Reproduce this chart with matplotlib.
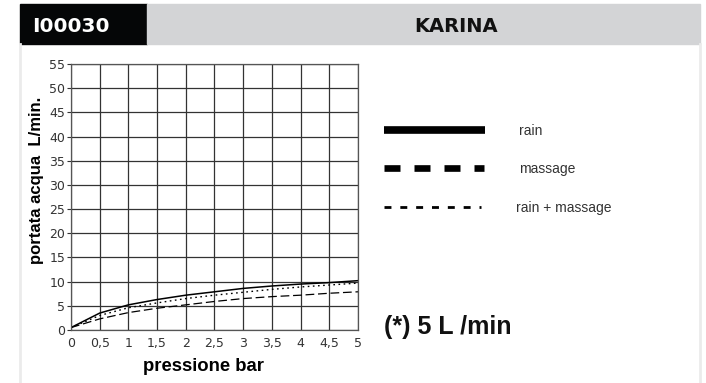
import numpy as np
import matplotlib.pyplot as plt
from matplotlib.lines import Line2D
from matplotlib.patches import Rectangle

# data
pressure = [0, 0.5, 1, 1.5, 2, 2.5, 3, 3.5, 4, 4.5, 5]
rain = [0.5, 3.5, 5.2, 6.3, 7.2, 7.9, 8.6, 9.1, 9.5, 9.8, 10.2]
massage = [0.5, 2.3, 3.6, 4.5, 5.2, 5.9, 6.5, 6.9, 7.2, 7.6, 7.9]
rain_massage = [0.5, 3.0, 4.6, 5.6, 6.5, 7.2, 7.8, 8.4, 8.9, 9.3, 9.7]

x_ticks = [0, 0.5, 1, 1.5, 2, 2.5, 3, 3.5, 4, 4.5, 5]
x_labels = ['0', '0,5', '1', '1,5', '2', '2,5', '3', '3,5', '4', '4,5', '5']
y_ticks = list(range(0, 60, 5))

plt.rcParams['font.family'] = ['Liberation Sans', 'DejaVu Sans']
narrow = 'DejaVu Sans Condensed'

fig = plt.figure(figsize=(7.06, 3.83), dpi=100)
W, H = 706, 383

def fx(px):
    return px / W

def fy(py):
    return 1 - py / H

# header bars and page borders
fig.add_artist(Rectangle((fx(20), fy(44)), fx(127), 40 / H, color='#050607', transform=fig.transFigure))
fig.add_artist(Rectangle((fx(147), fy(44)), fx(553), 40 / H, color='#d3d4d6', transform=fig.transFigure))
fig.add_artist(Line2D([fx(20), fx(20)], [fy(44), 0], color='#ebebeb', lw=2, transform=fig.transFigure))
fig.add_artist(Line2D([fx(700), fx(700)], [fy(44), 0], color='#ebebeb', lw=2, transform=fig.transFigure))
fig.text(fx(32), fy(26), 'I00030', color='white', fontsize=14.5, fontweight='bold',
         family=narrow, va='center', ha='left')
fig.text(fx(456), fy(26), 'KARINA', color='#111111', fontsize=14, fontweight='bold',
         family=narrow, va='center', ha='center')

ax = fig.add_axes([fx(71), fy(330), fx(287), 266 / H])
ax.plot(pressure, rain, color='black', lw=1.1)
ax.plot(pressure, massage, color='black', lw=0.9, linestyle=(0, (7, 3)))
ax.plot(pressure, rain_massage, color='black', lw=1.0, linestyle=(0, (1.2, 2.5)))

ax.set_xlim(0, 5)
ax.set_ylim(0, 55)
ax.set_xticks(x_ticks)
ax.set_xticklabels(x_labels)
ax.set_yticks(y_ticks)
ax.grid(True, color='#333333', lw=0.9)
ax.set_axisbelow(True)
for s in ax.spines.values():
    s.set_color('#555555')
    s.set_linewidth(0.9)
ax.tick_params(axis='both', labelsize=9, colors='#333333', length=3, width=0.8)
ax.tick_params(axis='y', pad=1)
ax.tick_params(axis='x', length=0, pad=5)
for lab in ax.get_xticklabels() + ax.get_yticklabels():
    lab.set_family(narrow)
ax.set_xlabel('pressione bar', fontsize=13.3, fontweight='bold')
ax.xaxis.set_label_coords(0.463, -0.105)
ax.set_ylabel('portata acqua  L/min.', fontsize=12, fontweight='bold')
ax.yaxis.set_label_coords(-0.094, 0.564)

# legend drawn as free lines
fig.add_artist(Line2D([fx(384), fx(485)], [fy(130), fy(130)], color='black', lw=5.5,
                      transform=fig.transFigure, solid_capstyle='butt'))
fig.add_artist(Line2D([fx(384), fx(484)], [fy(168), fy(168)], color='black', lw=4.8,
                      linestyle=(0, (2.4, 2.1)), transform=fig.transFigure, dash_capstyle='butt'))
fig.add_artist(Line2D([fx(384), fx(481)], [fy(207), fy(207)], color='black', lw=2,
                      linestyle=(0, (2.5, 3.2)), transform=fig.transFigure, dash_capstyle='butt'))
fig.text(fx(519), fy(131), 'rain', fontsize=10, color='#333333', va='center')
fig.text(fx(519), fy(169), 'massage', fontsize=10, color='#333333', va='center')
fig.text(fx(516), fy(208), 'rain + massage', fontsize=10, color='#333333', va='center')
fig.text(fx(384), fy(327), '(*) 5 L /min', fontsize=18, fontweight='bold', color='#111111', va='center')

fig.savefig('out.png', dpi=100)
